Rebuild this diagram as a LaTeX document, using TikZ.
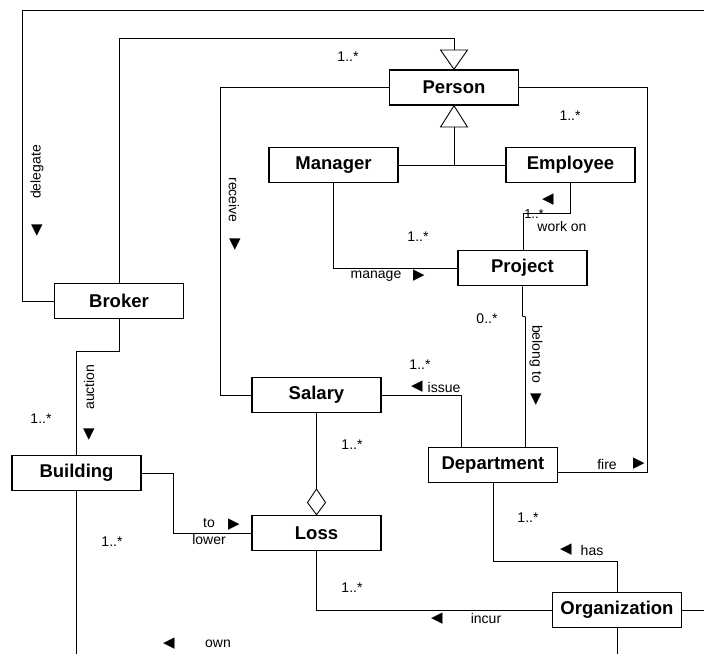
\documentclass[tikz,border=0pt]{standalone}
\usepackage{fontspec}
\setmainfont{Liberation Sans}
\newfontfamily\symfont{DejaVu Sans}
\begin{document}
\begin{tikzpicture}[x=1pt,y=-1pt,
  cls/.style={draw,line width=1.5pt,fill=white,minimum width=129pt,minimum height=35pt,inner sep=0pt,font=\fontsize{18.5}{20}\selectfont\bfseries},
  lbl/.style={font=\fontsize{14}{16}\selectfont,inner sep=0pt},
  arr/.style={font=\fontsize{15}{16}\selectfont\symfont,inner sep=0pt},
  conn/.style={line width=0.9pt},
  hollow/.style={line width=0.9pt,fill=white}]
\useasboundingbox (0,0) rectangle (704,654);
\fill[white] (0,0) rectangle (704,654);

% coordinates for bends and free ends
\coordinate (dTop) at (22,10);
\coordinate (dEnd) at (704,10);
\coordinate (bp) at (454,38);
\coordinate (gtop) at (454,50);
\coordinate (gbase) at (454,127);
\coordinate (gj) at (454,165);
\coordinate (rc) at (220,87.5);
\coordinate (fc) at (647,87.5);
\coordinate (wo) at (523,213);
\coordinate (bt1) at (522.5,316);
\coordinate (bt2) at (525.5,317);
\coordinate (is) at (461,395);
\coordinate (hs) at (493,561);
\coordinate (dm) at (316.5,489);
\coordinate (tl) at (173,473);
\coordinate (au) at (76.5,351);
\coordinate (ow) at (76.5,654);
\coordinate (oe) at (704,610);
\coordinate (ob) at (617,654);

% classes
\node[cls] (person) at (454,87.5) {Person};
\node[cls] (manager) at (333.5,165) {Manager};
\node[cls] (employee) at (570.5,165) {Employee};
\node[cls] (project) at (522.5,268) {Project};
\node[cls] (broker) at (119,301) {Broker};
\node[cls] (salary) at (316.5,395) {Salary};
\node[cls] (department) at (493,465) {Department};
\node[cls] (building) at (76.5,473) {Building};
\node[cls] (loss) at (316.5,533) {Loss};
\node[cls] (organization) at (617,610) {Organization};

% connectors
\draw[conn] (broker.west) -| (dTop) -- (dEnd);
\draw[conn] (broker.north) |- (bp) -- (gtop);
\draw[hollow] (person.north) -- (440.5,50) -- (467.5,50) -- cycle;
\draw[hollow] (person.south) -- (440.5,127) -- (467.5,127) -- cycle;
\draw[conn] (gbase) -- (gj);
\draw[conn] (manager.east) -- (employee.west);
\draw[conn] (person.west) -- (rc) |- (salary.west);
\draw[conn] (person.east) -- (fc) |- ([yshift=-7pt]department.east);
\draw[conn] (manager.south) |- (project.west);
\draw[conn] (employee.south) |- (wo) -- (wo |- project.north);
\draw[conn] (project.south) -- (bt1) -- (bt2) -- (bt2 |- department.north);
\draw[conn] (salary.east) -- (is) -- (is |- department.north);
\draw[conn] (department.south) -- (hs) -| (organization.north);
\draw[conn] (salary.south) -- (dm);
\draw[hollow] (loss.north) -- (307.5,502.5) -- (dm) -- (325.5,502.5) -- cycle;
\draw[conn] (building.east) -- (tl) |- (loss.west);
\draw[conn] (broker.south) |- (au) -- (au |- building.north);
\draw[conn] (building.south) -- (ow);
\draw[conn] (loss.south) |- (organization.west);
\draw[conn] (organization.east) -- (oe);
\draw[conn] (organization.south) -- (ob);

% labels
\node[lbl] (m1) at (348,57) {1..*};
\node[lbl] (m2) at (570,116) {1..*};
\node[lbl,rotate=90] (l1) at (37,172) {delegate};
\node[arr] (a1) at (37,231) {▼};
\node[lbl,rotate=-90] (l2) at (234,200) {receive};
\node[arr] (a2) at (235,245) {▼};
\node[arr] (a3) at (548,200) {◀};
\node[lbl,font=\fontsize{13}{14}\selectfont] (m3) at (534,214) {1..*};
\node[lbl] (l3) at (562,226) {work on};
\node[lbl] (m4) at (418,237) {1..*};
\node[lbl] (l4) at (376,276) {manage};
\node[arr] (a4) at (419,276) {▶};
\node[lbl] (m5) at (487,319) {0..*};
\node[lbl,rotate=-90] (l5) at (536,354) {belong to};
\node[arr] (a5) at (536,400) {▼};
\node[lbl] (m6) at (420,365) {1..*};
\node[arr] (a6) at (417,387) {◀};
\node[lbl] (l6) at (444,387) {issue};
\node[lbl] (m7) at (352,445) {1..*};
\node[lbl] (l7) at (607,464) {fire};
\node[arr] (a7) at (639,464) {▶};
\node[lbl] (m8) at (41,419) {1..*};
\node[lbl,rotate=90] (l8) at (89,387) {auction};
\node[arr] (a8) at (89,435) {▼};
\node[lbl] (l9a) at (209,523) {to};
\node[arr] (a9) at (234,525) {▶};
\node[lbl] (l9b) at (209,539) {lower};
\node[lbl] (m9) at (112,542) {1..*};
\node[lbl] (m10) at (352,588) {1..*};
\node[arr] (a10) at (169,644) {◀};
\node[lbl] (l10) at (218,644) {own};
\node[lbl] (m11) at (528,518) {1..*};
\node[arr] (a11) at (566,550) {◀};
\node[lbl] (l11) at (592,550) {has};
\node[arr] (a12) at (437,619) {◀};
\node[lbl] (l12) at (486,618) {incur};
\end{tikzpicture}
\end{document}
